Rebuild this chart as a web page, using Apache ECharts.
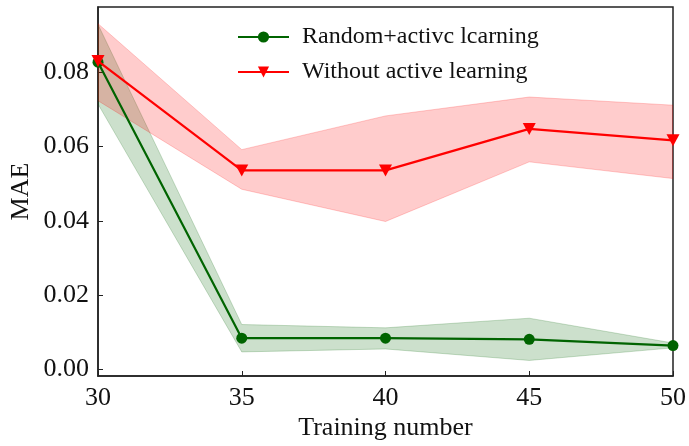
<!DOCTYPE html>
<html><head><meta charset="utf-8">
<script src="https://cdn.jsdelivr.net/npm/echarts@6/dist/echarts.min.js"></script>
<style>html,body{margin:0;padding:0;background:#fff}#c{width:689px;height:446px}</style>
</head><body><div id="c"></div>
<script>
const trainingNumbers = [30, 35, 40, 45, 50];
const yTicks = [0, 0.02, 0.04, 0.06, 0.08];
const randomActiveMean = [0.0828, 0.0083, 0.0083, 0.0080, 0.0063];
const randomActiveLow  = [0.0715, 0.0046, 0.0054, 0.0023, 0.0057];
const randomActiveHigh = [0.0930, 0.0120, 0.0111, 0.0137, 0.0070];
const withoutActiveMean = [0.0831, 0.0536, 0.0536, 0.0648, 0.0617];
const withoutActiveLow  = [0.0724, 0.0485, 0.0398, 0.0559, 0.0514];
const withoutActiveHigh = [0.0932, 0.0592, 0.0683, 0.0734, 0.0712];
const seriesNames = ['Random+activc lcarning', 'Without active learning'];

const FONT = '"Liberation Serif", "Times New Roman", serif';
const chart = echarts.init(document.getElementById('c'));

function band(lo, hi, fill, stroke, z) {
  const data = trainingNumbers.map((x, i) => [x, lo[i], hi[i]]);
  return {
    type: 'custom', z: z, silent: true, clip: true,
    data: data,
    renderItem: function (params, api) {
      if (params.dataIndex !== 0) return null;
      const pts = [];
      for (let i = 0; i < data.length; i++) pts.push(api.coord([data[i][0], data[i][2]]));
      for (let i = data.length - 1; i >= 0; i--) pts.push(api.coord([data[i][0], data[i][1]]));
      return { type: 'polygon', shape: { points: pts }, style: { fill: fill, stroke: stroke, lineWidth: 1 } };
    }
  };
}

chart.setOption({
  animation: false,
  backgroundColor: '#fff',
  grid: { left: 98, right: 16, top: 7, bottom: 67, show: true, borderColor: '#222', borderWidth: 1.5, backgroundColor: 'transparent' },
  legend: {
    orient: 'vertical', left: 232, top: 20, itemWidth: 51, itemHeight: 14, itemGap: 11,
    textStyle: { fontFamily: FONT, fontSize: 24, color: '#111', padding: [0, 0, 0, 8] },
    data: [{ name: seriesNames[0] }, { name: seriesNames[1] }]
  },
  xAxis: {
    type: 'value', min: 30, max: 50, interval: 5,
    name: 'Training number', nameLocation: 'middle', nameGap: 39, nameMoveOverlap: false,
    nameTextStyle: { fontFamily: FONT, fontSize: 26, color: '#111' },
    axisLine: { onZero: false, lineStyle: { color: '#222', width: 1.5 } },
    axisTick: { inside: true, length: 5, lineStyle: { color: '#222' } },
    axisLabel: { fontFamily: FONT, fontSize: 26, color: '#111', margin: 9 },
    splitLine: { show: false }
  },
  yAxis: {
    type: 'value', min: -0.0019, max: 0.0977,
    name: 'MAE', nameLocation: 'middle', nameGap: 64, nameRotate: 90, nameMoveOverlap: false,
    nameTextStyle: { fontFamily: FONT, fontSize: 26, color: '#111' },
    axisLine: { onZero: false, lineStyle: { color: '#222', width: 1.5 } },
    axisTick: { inside: true, length: 5, customValues: yTicks, lineStyle: { color: '#222' } },
    axisLabel: { fontFamily: FONT, fontSize: 26, color: '#111', margin: 9, customValues: yTicks,
      formatter: v => v.toFixed(2) },
    splitLine: { show: false }
  },
  series: [
    band(randomActiveLow, randomActiveHigh, 'rgba(0,100,0,0.2)', 'rgba(0,100,0,0.2)', 1),
    band(withoutActiveLow, withoutActiveHigh, 'rgba(255,0,0,0.2)', 'rgba(255,0,0,0.2)', 1),
    {
      name: seriesNames[0], type: 'line', z: 3,
      data: trainingNumbers.map((x, i) => [x, randomActiveMean[i]]),
      symbol: 'circle', symbolSize: 11, showAllSymbol: true,
      lineStyle: { color: '#006400', width: 2.2 },
      itemStyle: { color: '#006400' }, clip: false
    },
    {
      name: seriesNames[1], type: 'line', z: 4,
      data: trainingNumbers.map((x, i) => [x, withoutActiveMean[i]]),
      symbol: 'triangle', symbolRotate: 180, symbolSize: [13, 12], showAllSymbol: true,
      lineStyle: { color: '#ff0000', width: 2.2 },
      itemStyle: { color: '#ff0000' }, clip: false
    }
  ]
});
</script></body></html>
